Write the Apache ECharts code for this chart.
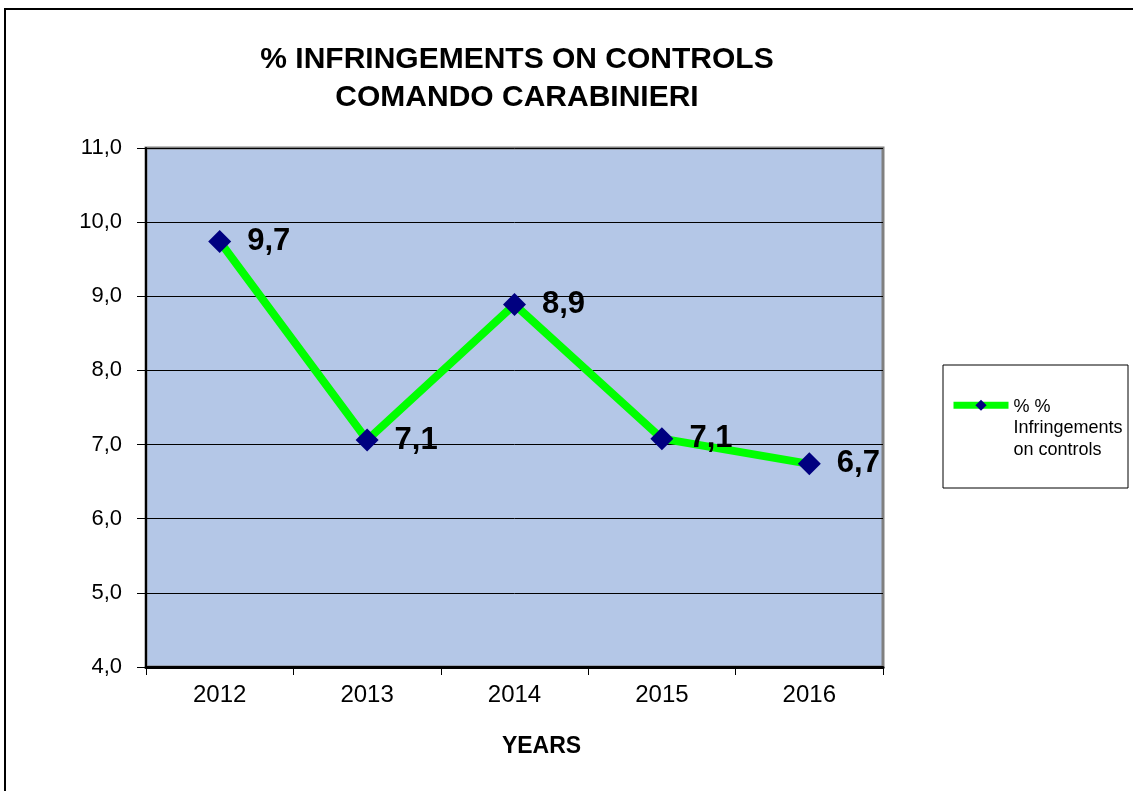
<!DOCTYPE html>
<html>
<head>
<meta charset="utf-8">
<script src="https://cdn.jsdelivr.net/npm/echarts@6/dist/echarts.min.js"></script>
<style>html,body{margin:0;padding:0;background:#fff;}#c{width:1133px;height:791px;}</style>
</head>
<body>
<div id="c"></div>
<script>
var categories = ['2012', '2013', '2014', '2015', '2016'];
var infringements = [9.74, 7.06, 8.89, 7.08, 6.74];
var seriesName = '% %\nInfringements\non controls';
var titleText = '% INFRINGEMENTS ON CONTROLS\nCOMANDO CARABINIERI';
var xAxisTitle = 'YEARS';
var yMin = 4, yMax = 11, yStep = 1;

function comma1(v) { return Number(v).toFixed(1).replace('.', ','); }

var chart = echarts.init(document.getElementById('c'), null, {renderer: 'canvas'});
chart.setOption({
  animation: false,
  backgroundColor: '#ffffff',
  title: {
    text: titleText,
    left: 512, top: 36, textAlign: 'center',
    textStyle: {fontFamily: 'Liberation Sans', fontWeight: 'bold', fontSize: 30, lineHeight: 38, color: '#000'}
  },
  graphic: [
    {type: 'rect', shape: {x: 5, y: 9, width: 1140, height: 800}, style: {fill: 'none', stroke: '#000', lineWidth: 2}, silent: true},
    {type: 'rect', shape: {x: 943, y: 365, width: 185, height: 123}, style: {fill: '#fff', stroke: '#000', lineWidth: 1}, silent: true, z: -1}
  ],
  legend: {
    show: true,
    left: 950, top: 349, padding: 0,
    itemWidth: 55, itemHeight: 14,
    lineStyle: {width: 7},
    formatter: function (name) {
      var lines = name.split('\n');
      return lines.map(function (l, i) { return i === 0 ? '{sp| }{first|' + l + '}' : '{t|' + l + '}'; }).join('\n');
    },
    textStyle: {
      fontFamily: 'Liberation Sans', fontSize: 18, lineHeight: 22.5, color: '#000',
      rich: {
        sp: {fontSize: 1, lineHeight: 67.5, width: 0},
        first: {fontFamily: 'Liberation Sans', fontSize: 18, lineHeight: 22.5, verticalAlign: 'bottom', color: '#000'},
        t: {fontFamily: 'Liberation Sans', fontSize: 18, lineHeight: 22.5, color: '#000'}
      }
    },
    data: [seriesName]
  },
  grid: {
    left: 146, top: 148, right: 250, bottom: 124,
    show: true, backgroundColor: '#B4C7E7', borderColor: '#808080', borderWidth: 3
  },
  xAxis: {
    type: 'category', data: categories, boundaryGap: true,
    name: xAxisTitle, nameLocation: 'middle', nameGap: 68,
    nameTextStyle: {fontFamily: 'Liberation Sans', fontWeight: 'bold', fontSize: 23, color: '#000', padding: [0, 0, 0, 54]},
    axisLine: {lineStyle: {color: '#000', width: 3}},
    axisTick: {show: true, alignWithLabel: false, length: 8, lineStyle: {color: '#000', width: 1}},
    axisLabel: {fontFamily: 'Liberation Sans', fontSize: 24, color: '#000', margin: 16},
    splitLine: {show: false}
  },
  yAxis: {
    type: 'value', min: yMin, max: yMax, interval: yStep,
    axisLine: {show: true, lineStyle: {color: '#000', width: 2}},
    axisTick: {show: true, length: 9, lineStyle: {color: '#000', width: 1}},
    axisLabel: {fontFamily: 'Liberation Sans', fontSize: 22, color: '#000', margin: 24, formatter: comma1},
    splitLine: {show: true, lineStyle: {color: '#000', width: 1}}
  },
  series: [{
    name: seriesName,
    type: 'line',
    data: infringements,
    symbol: 'diamond', symbolSize: 23,
    lineStyle: {color: '#00FF00', width: 8},
    itemStyle: {color: '#000080'},
    label: {
      show: true, position: 'right', distance: 16,
      fontFamily: 'Liberation Sans', fontWeight: 'bold', fontSize: 31, color: '#000',
      formatter: function (p) { return comma1(p.value); }
    },
    z: 5
  }]
});
</script>
</body>
</html>
